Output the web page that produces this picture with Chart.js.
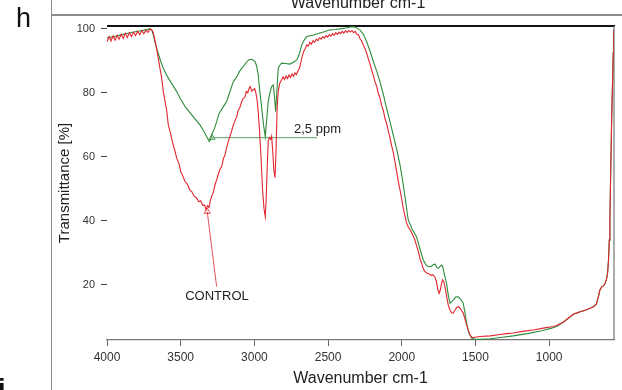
<!DOCTYPE html>
<html><head><meta charset="utf-8">
<script src="https://cdn.jsdelivr.net/npm/chart.js@4"></script>
<style>html,body{margin:0;padding:0;background:#fff;}#wrap{position:relative;width:622px;height:390px;}</style>
</head><body><div id="wrap"><canvas id="c" width="622" height="390"></canvas></div>
<script>
// ---- data ----
const redWn = [4000,3986,3973,3959,3945,3931,3918,3904,3890,3876,3862,3848,3834,3820,3806,3792,3778,3764,3750,3736,3722,3708,3695,3686,3672,3660,3652,3640,3630,3618,3605,3595,3584,3570,3555,3540,3527,3512,3500,3485,3471,3455,3440,3425,3410,3391,3378,3365,3350,3338,3328,3318,3308,3298,3288,3278,3267,3255,3245,3235,3222,3210,3200,3188,3176,3165,3155,3143,3130,3120,3110,3098,3088,3076,3065,3055,3045,3035,3028,3018,3008,2998,2990,2982,2974,2965,2955,2945,2935,2926,2920,2912,2906,2898,2890,2883,2876,2868,2860,2853,2846,2838,2828,2815,2805,2795,2785,2775,2765,2755,2745,2735,2725,2715,2705,2695,2685,2675,2665,2655,2645,2635,2624,2613,2602,2591,2580,2569,2558,2547,2536,2525,2514,2503,2492,2481,2470,2459,2448,2437,2426,2415,2404,2393,2382,2371,2360,2349,2338,2327,2316,2305,2294,2284,2272,2260,2249,2238,2226,2215,2204,2193,2182,2170,2159,2148,2137,2125,2114,2103,2091,2080,2069,2058,2046,2035,2024,2012,2001,1990,1978,1967,1955,1940,1925,1911,1898,1885,1875,1865,1855,1845,1831,1815,1800,1790,1775,1765,1755,1746,1738,1730,1723,1715,1705,1696,1685,1673,1662,1651,1640,1630,1617,1605,1595,1583,1572,1560,1549,1538,1526,1515,1470,1400,1334,1290,1244,1180,1100,1040,972,949,900,860,830,813,790,760,723,700,680,665,656,644,630,620,610,603,597,592,588,582,576,570,565,561];
const redT = [96.0,97.6,96.2,97.8,96.5,98.0,96.8,98.3,97.0,98.6,97.3,98.8,97.6,99.0,97.9,99.2,98.2,99.4,98.5,99.6,98.9,100.0,99.6,98.8,95.8,93.0,90.8,87.5,85.0,80.4,77.0,74.5,70.0,67.5,64.5,62.0,59.6,58.0,55.5,54.0,52.3,51.5,49.8,49.2,47.8,47.1,46.0,46.3,44.8,45.0,43.5,44.8,44.2,46.5,48.0,49.0,51.3,53.0,54.5,56.0,57.0,59.5,60.5,63.0,65.0,66.5,68.0,70.0,71.5,72.5,74.5,75.5,77.0,78.3,78.5,80.5,80.0,81.5,82.0,80.5,81.0,81.3,80.0,78.0,74.2,68.0,60.0,50.0,44.0,41.3,47.0,58.0,65.0,66.0,65.5,66.5,62.0,56.0,53.5,62.0,75.0,80.5,83.0,84.1,85.0,84.2,85.3,84.5,85.6,84.8,85.9,85.2,86.3,85.7,86.8,87.5,89.5,91.5,93.0,93.8,95.0,94.6,95.8,95.2,96.3,95.8,96.8,96.3,97.2,96.8,97.6,97.1,97.9,97.4,98.2,97.7,98.5,98.0,98.8,98.3,99.0,98.5,99.2,98.7,99.4,98.9,99.5,99.0,99.5,98.8,99.2,98.3,98.2,97.0,96.2,94.8,93.8,92.5,90.5,89.0,87.0,85.5,83.5,82.0,79.8,78.5,76.0,74.5,72.0,70.5,68.0,66.0,63.5,61.5,58.5,55.5,52.5,49.7,47.0,44.0,41.5,39.3,38.0,37.0,35.5,34.1,32.0,30.0,28.0,26.8,25.2,24.3,23.7,23.4,23.0,23.2,22.5,21.0,18.5,17.4,18.5,20.5,21.6,21.0,19.0,16.5,13.8,12.2,11.3,11.2,12.0,12.8,13.2,12.8,12.0,11.2,9.5,7.5,5.9,4.5,3.7,3.6,3.9,4.1,4.5,4.8,5.0,5.5,6.0,6.5,7.0,7.3,8.5,10.0,11.0,11.2,11.6,12.0,12.7,13.2,14.0,16.5,18.4,19.3,19.8,20.5,22.0,24.0,28.0,34.0,40.3,56.0,71.6,83.0,92.5,99.7];

const greenWn = [4000,3950,3900,3850,3800,3750,3708,3695,3686,3670,3650,3635,3618,3600,3580,3555,3527,3500,3471,3440,3410,3369,3340,3320,3306,3296,3285,3270,3256,3240,3220,3200,3188,3165,3143,3120,3100,3076,3055,3040,3020,3008,2996,2985,2974,2962,2950,2938,2926,2916,2906,2895,2883,2872,2864,2856,2848,2838,2825,2815,2790,2759,2735,2713,2700,2690,2679,2662,2645,2600,2555,2520,2487,2450,2419,2380,2350,2329,2310,2297,2284,2260,2238,2215,2193,2170,2148,2125,2103,2080,2058,2035,2012,2001,1990,1975,1956,1930,1900,1875,1854,1835,1820,1800,1785,1775,1762,1752,1740,1730,1723,1712,1696,1685,1673,1660,1651,1635,1617,1600,1583,1572,1560,1545,1526,1500,1470,1400,1330,1244,1150,1050,983,949,900,860,830,813,790,760,723,700,680,665,656,644,630,620,610,603,597,592,588,582,576,570,565,561];
const greenT = [97.2,97.6,98.2,98.7,99.2,99.6,100.0,99.5,98.1,95.0,92.0,89.8,87.7,86.0,84.3,82.5,80.4,78.0,75.8,74.0,72.3,70.0,67.8,66.0,64.8,65.5,67.5,69.0,71.0,73.5,75.0,76.5,77.3,80.5,83.5,85.0,86.8,88.2,89.5,90.3,90.5,90.2,89.8,88.5,85.6,80.0,75.2,70.0,66.3,72.0,77.3,80.0,82.0,82.5,79.0,74.2,80.0,87.7,88.8,89.3,89.2,89.0,89.6,90.3,91.5,93.0,95.0,96.5,97.6,98.1,98.7,99.2,99.7,99.8,100.0,100.3,100.6,100.7,100.4,100.0,99.7,98.3,96.0,93.0,89.8,86.8,83.5,79.5,75.2,71.0,66.9,62.5,57.5,54.5,51.3,46.5,40.3,37.5,35.1,31.0,27.8,26.2,25.7,25.8,26.4,26.5,25.5,25.2,25.8,26.2,25.9,23.5,20.5,17.0,14.3,14.8,15.3,16.2,16.3,15.5,14.3,11.5,8.0,5.0,3.3,3.0,3.0,3.2,3.6,4.1,4.8,5.7,6.5,7.0,8.5,10.0,11.0,11.2,11.6,12.0,12.7,13.2,14.0,16.5,18.4,19.3,19.8,20.5,22.0,24.0,28.0,34.0,40.3,56.0,71.6,83.0,92.5,99.7];

const xTicks = [4000,3500,3000,2500,2000,1500,1000];
const yTicks = [20,40,60,80,100];
const xTitle = 'Wavenumber cm-1';
const yTitle = 'Transmittance [%]';
const controlLabel = 'CONTROL';
const ppmLabel = '2,5 ppm';
const controlLeaderWn = [3320,3256];
const controlLeaderT = [42.9,19.5];
const ppmLeaderWn = [3288,2575];
const ppmLeaderT = [66.0,66.0];
const controlLabelPos = [3254,16.4];
const ppmLabelPos = [2731,68.6];
const panelLetter = 'h';
const nextPanelLetter = 'i';

const RED = '#e2262f', GREEN = '#2e8c3c';
const FONT = "'Liberation Sans', Arial, Helvetica, sans-serif";
const pts = (xs, ys) => xs.map((x,i)=>({x:x, y:ys[i]}));

const decor = {
  id:'decor',
  beforeDatasetsDraw(chart){
    const ctx = chart.ctx, a = chart.chartArea;
    ctx.save();
    ctx.strokeStyle = '#111'; ctx.lineWidth = 2;
    ctx.beginPath(); ctx.moveTo(a.left, a.top); ctx.lineTo(a.right+1, a.top); ctx.stroke();
    ctx.strokeStyle = '#777'; ctx.lineWidth = 1.2;
    ctx.beginPath(); ctx.moveTo(a.right, a.top); ctx.lineTo(a.right, a.bottom); ctx.stroke();
    ctx.restore();
  },
  afterDraw(chart){
    const ctx = chart.ctx, sx = chart.scales.x, sy = chart.scales.y;
    ctx.save();
    // annotation texts
    ctx.fillStyle = '#222'; ctx.font = '13px ' + FONT; ctx.textBaseline = 'middle';
    ctx.textAlign = 'left';
    ctx.fillText(ppmLabel, sx.getPixelForValue(ppmLabelPos[0]), sy.getPixelForValue(ppmLabelPos[1]));
    ctx.textAlign = 'center';
    ctx.fillText(controlLabel, sx.getPixelForValue(controlLabelPos[0]), sy.getPixelForValue(controlLabelPos[1]));
    // figure decorations (panel frame of the composite figure)
    ctx.strokeStyle = '#8a8a8a'; ctx.lineWidth = 1;
    ctx.beginPath(); ctx.moveTo(51.5, 0); ctx.lineTo(51.5, 390); ctx.stroke();
    ctx.strokeStyle = '#666'; ctx.lineWidth = 1.5;
    ctx.beginPath(); ctx.moveTo(52, 15); ctx.lineTo(622, 15); ctx.stroke();
    ctx.fillStyle = '#222'; ctx.textBaseline = 'alphabetic';
    ctx.font = '16px ' + FONT; ctx.textAlign = 'center';
    ctx.fillText(xTitle, 358, 8);
    ctx.fillStyle = '#111';
    ctx.font = '27px ' + FONT; ctx.textAlign = 'left';
    ctx.fillText(panelLetter, 16, 27);
    ctx.font = 'bold 27px ' + FONT;
    ctx.fillText(nextPanelLetter, -2, 398);
    ctx.restore();
  }
};

new Chart(document.getElementById('c'), {
  type:'line',
  data:{ datasets:[
    {label:'CONTROL', data:pts(redWn, redT), borderColor:RED, borderWidth:1.1, pointRadius:0, tension:0, fill:false},
    {label:'2,5 ppm', data:pts(greenWn, greenT), borderColor:GREEN, borderWidth:1.1, pointRadius:0, tension:0, fill:false},
    {label:'ppm leader', data:pts(ppmLeaderWn, ppmLeaderT), borderColor:GREEN, borderWidth:0.8, pointStyle:'triangle', pointRadius:[3.5,0], pointBorderColor:GREEN, pointBackgroundColor:'rgba(0,0,0,0)', pointBorderWidth:0.8, tension:0, fill:false},
    {label:'control leader', data:pts(controlLeaderWn, controlLeaderT), borderColor:RED, borderWidth:0.8, pointStyle:'triangle', pointRadius:[3.5,0], pointBorderColor:RED, pointBackgroundColor:'rgba(0,0,0,0)', pointBorderWidth:0.8, tension:0, fill:false}
  ]},
  options:{
    responsive:false, animation:false, devicePixelRatio:1,
    layout:{padding:{left:56, right:8, top:26, bottom:2}},
    plugins:{legend:{display:false}, tooltip:{enabled:false}, title:{display:false}},
    scales:{
      x:{type:'linear', reverse:true, min:560, max:4000,
        afterBuildTicks:s=>{s.ticks = xTicks.map(v=>({value:v}));},
        afterFit:s=>{s.height = 48;},
        ticks:{callback:v=>String(v), font:{size:12, family:FONT}, color:'#333', padding:4, maxRotation:0, autoSkip:false},
        grid:{drawOnChartArea:false, drawTicks:true, tickLength:6, color:'#666', lineWidth:1},
        border:{display:true, color:'#777', width:1.2},
        title:{display:true, text:xTitle, font:{size:16, family:FONT}, color:'#222', padding:0}
      },
      y:{type:'linear', min:2.8, max:100.9,
        afterBuildTicks:s=>{s.ticks = yTicks.map(v=>({value:v}));},
        afterFit:s=>{s.width = 51;},
        ticks:{callback:v=>String(v), font:{size:11, family:FONT}, color:'#333', padding:6},
        grid:{drawOnChartArea:false, drawTicks:true, tickLength:6, color:'#444', lineWidth:1},
        border:{display:false},
        title:{display:true, text:yTitle, font:{size:15, family:FONT}, color:'#222', padding:0}
      }
    }
  },
  plugins:[decor]
});
</script>
</body></html>
